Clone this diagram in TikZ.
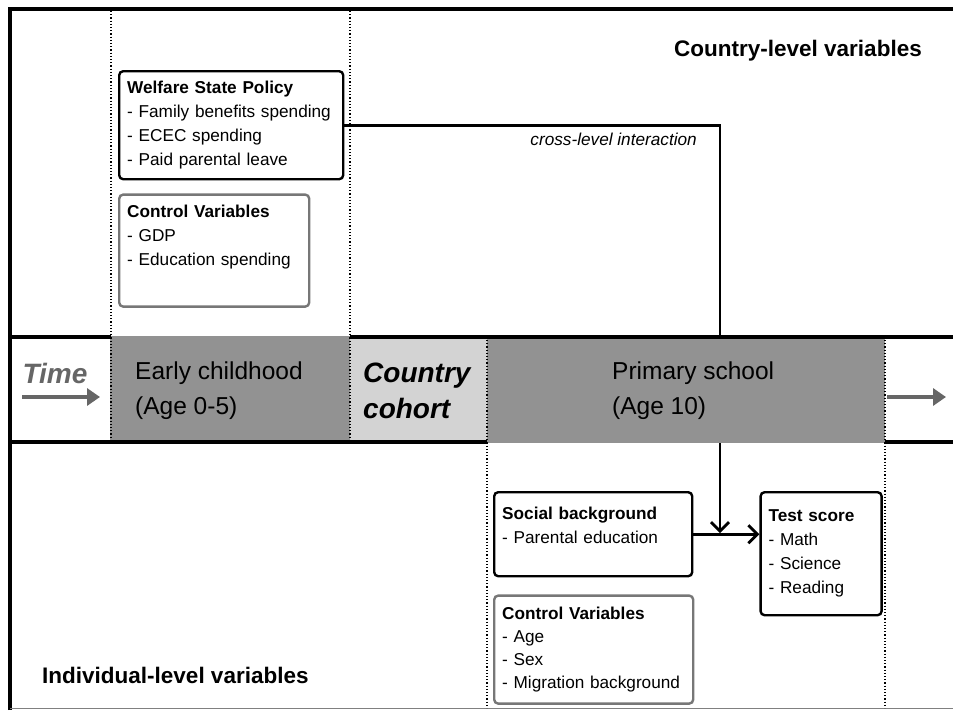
\documentclass[tikz,border=0pt]{standalone}
\usepackage{fontspec}
\setmainfont{Liberation Sans}
\usepackage{xcolor}
\usetikzlibrary{arrows.meta,positioning}

\definecolor{bandgray}{HTML}{929292}
\definecolor{cohortgray}{HTML}{D3D3D3}
\definecolor{timegray}{HTML}{666666}
\definecolor{boxgray}{HTML}{777777}

\begin{document}
\begin{tikzpicture}[x=1pt,y=-1pt,>={Straight Barb[length=9pt,width=18pt]},
      varbox/.style={draw,rounded corners=4pt,line width=2.4pt,anchor=north west,
        align=left,inner xsep=8pt,inner ysep=7pt,font=\fontsize{17.2}{24}\selectfont},
      ctrlbox/.style={varbox,draw=boxgray},
      period/.style={anchor=west,align=left,inner sep=0pt,font=\fontsize{24.5}{35}\selectfont},
      level/.style={inner sep=0pt,font=\bfseries\fontsize{22.5}{27}\selectfont},
      link/.style={line width=2.8pt},
      band/.style={line width=4.5pt},
      sep/.style={dotted,line width=1.2pt},
      tarrow/.style={-{Triangle[length=13pt,width=17pt]},line width=4.5pt,draw=timegray}]
    \useasboundingbox (0,0) rectangle (953,710);

    % country level
    \node[varbox,text width=208pt,minimum height=108pt] (wsp) at (118,70)
        {\textbf{Welfare State Policy}\\- Family benefits spending\\- ECEC spending\\- Paid parental leave};
    \node[ctrlbox,text width=174pt,minimum height=112pt,below=13pt of wsp.south west,anchor=north west] (ctrlc)
        {\textbf{Control Variables}\\- GDP\\- Education spending\\ \strut};

    % individual level
    \node[varbox,text width=182pt,minimum height=84pt] (sb) at (493,491)
        {\textbf{Social background}\\- Parental education\\[-6pt]\mbox{}};
    \node[varbox,text width=105pt,minimum height=123pt,right=66pt of sb.north east,anchor=north west] (ts)
        {\textbf{Test score}\\- Math\\- Science\\- Reading};
    \node[ctrlbox,text width=183pt,minimum height=108pt,inner ysep=4pt,below=17pt of sb.south west,anchor=north west,
          font=\fontsize{17.2}{23}\selectfont] (ctrli)
        {\textbf{Control Variables}\\- Age\\- Sex\\- Migration background};

    % connectors
    \coordinate (meet) at (720,533);
    \draw[link,->] (wsp.east) -| (meet);
    \draw[link,->] (sb.east) -- (sb.east -| ts.west);
    \node[anchor=east,inner sep=0pt,font=\itshape\fontsize{17.2}{20}\selectfont] (xlab) at (697,139)
        {cross-level interaction};

    % time band
    \fill[bandgray] (110,336) rectangle (350,441);
    \fill[cohortgray] (350,339) rectangle (487,441);
    \fill[bandgray] (487,339) rectangle (885,443);
    \draw[band] (9,337) -- (111,337) (350,337) -- (953,337);
    \draw[band] (9,442) -- (487,442) (885,442) -- (953,442);

    % frame
    \draw[line width=3.5pt] (10,710) -- (10,9) -- (953,9);
    \draw[gray,line width=1pt] (10,708.5) -- (953,708.5);
    \draw[sep] (111,11) -- (111,441);
    \draw[sep] (350,11) -- (350,441);
    \draw[sep] (487,340) -- (487,708);
    \draw[sep] (885,340) -- (885,708);

    \node[text=timegray,inner sep=0pt,font=\bfseries\itshape\fontsize{28}{30}\selectfont] (time) at (55,373) {Time};
    \coordinate (t0) at (22,397);
    \coordinate (t1) at (100,397);
    \draw[tarrow] (t0) -- (t1);
    \coordinate (t2) at (887,397);
    \coordinate (t3) at (946,397);
    \draw[tarrow] (t2) -- (t3);

    \node[period] (early) at (135,391) {Early childhood\\(Age 0-5)};
    \node[period,font=\bfseries\itshape\fontsize{28}{36}\selectfont] (cohort) at (363,391) {Country\\cohort};
    \node[period] (primary) at (612,391) {Primary school\\(Age 10)};

    \node[level,anchor=east] (clev) at (922,51) {Country-level variables};
    \node[level,anchor=west] (ilev) at (42,675) {Individual-level variables};
\end{tikzpicture}
\end{document}
